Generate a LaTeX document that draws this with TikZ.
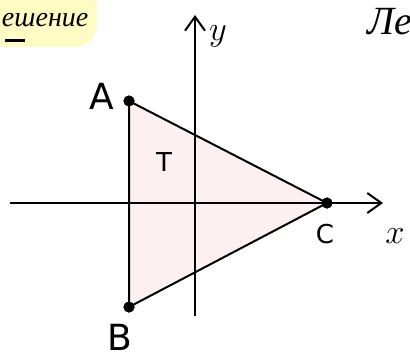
\documentclass[tikz,border=0pt]{standalone}
\usepackage{fontspec}
\setsansfont{DejaVu Sans}
\newfontfamily\cyrfont{Liberation Serif}
\usetikzlibrary{arrows.meta}

\definecolor{surligne}{RGB}{255,251,196}
\definecolor{rosepale}{RGB}{253,240,240}

\tikzset{
  point/.style={circle, fill, inner sep=0pt, minimum size=5.5pt},
  lettre/.style={font=\sffamily\fontsize{18}{18}\selectfont, inner sep=1pt},
  petite/.style={font=\sffamily\fontsize{13}{13}\selectfont},
  manuscrit/.style={font=\cyrfont\itshape\fontsize{#1}{#1}\selectfont, inner sep=0pt},
}

\begin{document}
\begin{tikzpicture}[x=0.5pt, y=-0.5pt, >={Straight Barb[length=7pt,width=10pt]}, line width=1pt]
\useasboundingbox (0,0) rectangle (410,358);

% --- Titre surligne ---
\fill[surligne, rounded corners=11pt] (-30,-30) rectangle (97,47);
\node (titre) [manuscrit=14, anchor=west] at (1,20) {ешение};
\draw[line width=1.5pt] (5,41) -- (25,41); % trait sous le titre
\node (coin) [manuscrit=20, anchor=west] at (366,22) {Ле};

% Points
\node (pA) [point] at (129,101) {};
\node (pB) [point] at (129,307) {};
\node (pC) [point] at (327,203) {};

% Triangle (remplissage)
\fill[rosepale] (pA.center) -- (pB.center) -- (pC.center) -- cycle;

% Axes
\coordinate (xg) at (10,203);
\coordinate (xd) at (383,203);
\coordinate (yb) at (195,316);
\coordinate (yh) at (195,15);
\draw[->] (xg) -- (xd); % Axe x
\draw[->] (yb) -- (yh); % Axe y

% Cotes du triangle
\draw (pA.center) -- (pB.center) -- (pC.center) -- cycle;
\node[point] at (pA) {};
\node[point] at (pB) {};
\node[point] at (pC) {};

% Etiquettes
\node (labA) [lettre] at (102,96) {A};
\node (labB) [lettre] at (120,337) {B};
\node (labC) [petite] at (325,234) {C};
\node (labT) [petite] at (164,162) {T};
\node (labx) [font=\fontsize{18}{18}\selectfont] at (395,236) {$x$};
\node (laby) [font=\fontsize{18}{18}\selectfont] at (218,36) {$y$};
\end{tikzpicture}
\end{document}
